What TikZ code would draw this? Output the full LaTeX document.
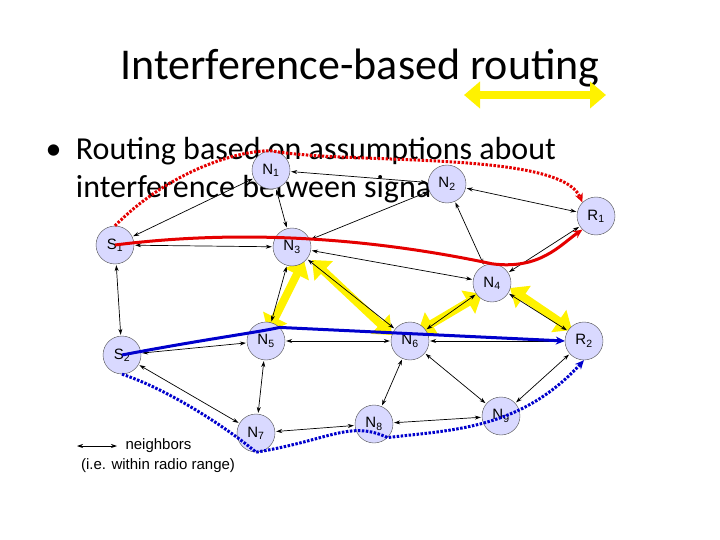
\documentclass[tikz,border=0pt]{standalone}
\usepackage{fontspec}
\setmainfont{Carlito}
\newfontfamily\arial{Liberation Sans}
\usetikzlibrary{arrows.meta}
\begin{document}
\begin{tikzpicture}[x=1pt,y=-1pt,
  nd/.style={circle,draw=black!70,fill=blue!15!white,minimum size=38pt,inner sep=0pt,font=\arial\fontsize{15}{15}\selectfont},
  nb/.style={{Stealth[length=6pt,width=4pt]}-{Stealth[length=6pt,width=4pt]},line width=0.7pt,shorten <=1pt,shorten >=1pt},
  yel/.style={{Triangle[length=16pt,width=26pt]}-{Triangle[length=16pt,width=26pt]},line width=8pt,draw=yellow},
  redp/.style={draw=red!90!black,line width=3pt,-{Stealth[length=9pt,width=8pt]}},
  bluep/.style={draw=blue!80!black,line width=3pt,-{Stealth[length=9pt,width=8pt]}},
  dotp/.style={dash pattern=on 2.5pt off 1.5pt}]
\useasboundingbox (0,0) rectangle (720,540);
\node[font=\fontsize{44}{48}\selectfont] (title) at (360,68) {Interference-based routing};
\node[anchor=west,font=\fontsize{32}{38}\selectfont,align=left] (body) at (42,170) {\textbullet\ \ Routing based on assumptions about\\\hphantom{\textbullet\ \ }interference between signals};
% yellow arrows
\coordinate (ya) at (464,95); \coordinate (yb) at (606,95);
\draw[yel] (ya) -- (yb);
\coordinate (y1a) at (268,332); \coordinate (y1b) at (304,260);
\draw[yel] (y1a) -- (y1b);
\coordinate (y2a) at (312,260); \coordinate (y2b) at (392,335);
\draw[yel] (y2a) -- (y2b);
\coordinate (y3a) at (418,332); \coordinate (y3b) at (482,294);
\draw[yel] (y3a) -- (y3b);
\coordinate (y4a) at (510,288); \coordinate (y4b) at (572,330);
\draw[yel] (y4a) -- (y4b);
% nodes
\node[nd] (S1) at (115,245) {S\textsubscript{1}};
\node[nd] (N1) at (271,170) {N\textsubscript{1}};
\node[nd] (N2) at (447,184) {N\textsubscript{2}};
\node[nd] (R1) at (596,216) {R\textsubscript{1}};
\node[nd] (N3) at (292,247) {N\textsubscript{3}};
\node[nd] (N4) at (492,283) {N\textsubscript{4}};
\node[nd] (S2) at (122,355) {S\textsubscript{2}};
\node[nd] (N5) at (266,341) {N\textsubscript{5}};
\node[nd] (N6) at (410,341) {N\textsubscript{6}};
\node[nd] (R2) at (584,341) {R\textsubscript{2}};
\node[nd] (N7) at (256,433) {N\textsubscript{7}};
\node[nd] (N8) at (374,424) {N\textsubscript{8}};
\node[nd] (N9) at (501,416) {N\textsubscript{9}};
% neighbor edges
\foreach \a/\b in {S1/N1,N1/N2,N1/N3,N2/N3,N2/R1,N2/N4,S1/N3,N3/N4,R1/N4,S1/S2,N3/N5,N3/N6,N4/N6,N4/R2,S2/N5,N5/N6,N6/R2,N5/N7,S2/N7,N6/N8,N6/N9,R2/N9,N7/N8,N8/N9}
  \draw[nb] (\a) -- (\b);
% routes
\draw[redp] (S1.center) .. controls (250,228) and (380,240) .. (N4.north) .. controls (540,270) and (560,245) .. (R1.south west);
\draw[redp,dotp] (S1.north) .. controls (170,170) and (240,150) .. (N1.north) .. controls (350,165) and (560,150) .. (R1.north west);
\draw[bluep] (S2.center) .. controls (200,340) and (260,332) .. (N5.north east) -- (R2.west);
\draw[bluep,dotp] (S2.south) .. controls (170,390) and (230,430) .. (N7.south) .. controls (330,440) and (350,420) .. (N8.south east) .. controls (450,430) and (520,430) .. (R2.south);
% legend
\coordinate (la) at (76,446); \coordinate (lb) at (118,446);
\draw[nb] (la) -- (lb);
\node[anchor=west,font=\arial\fontsize{15}{17}\selectfont] (lt1) at (122,446) {neighbors};
\node[font=\arial\fontsize{15}{17}\selectfont] (lt2) at (158,466) {(i.e. within radio range)};
\end{tikzpicture}
\end{document}
